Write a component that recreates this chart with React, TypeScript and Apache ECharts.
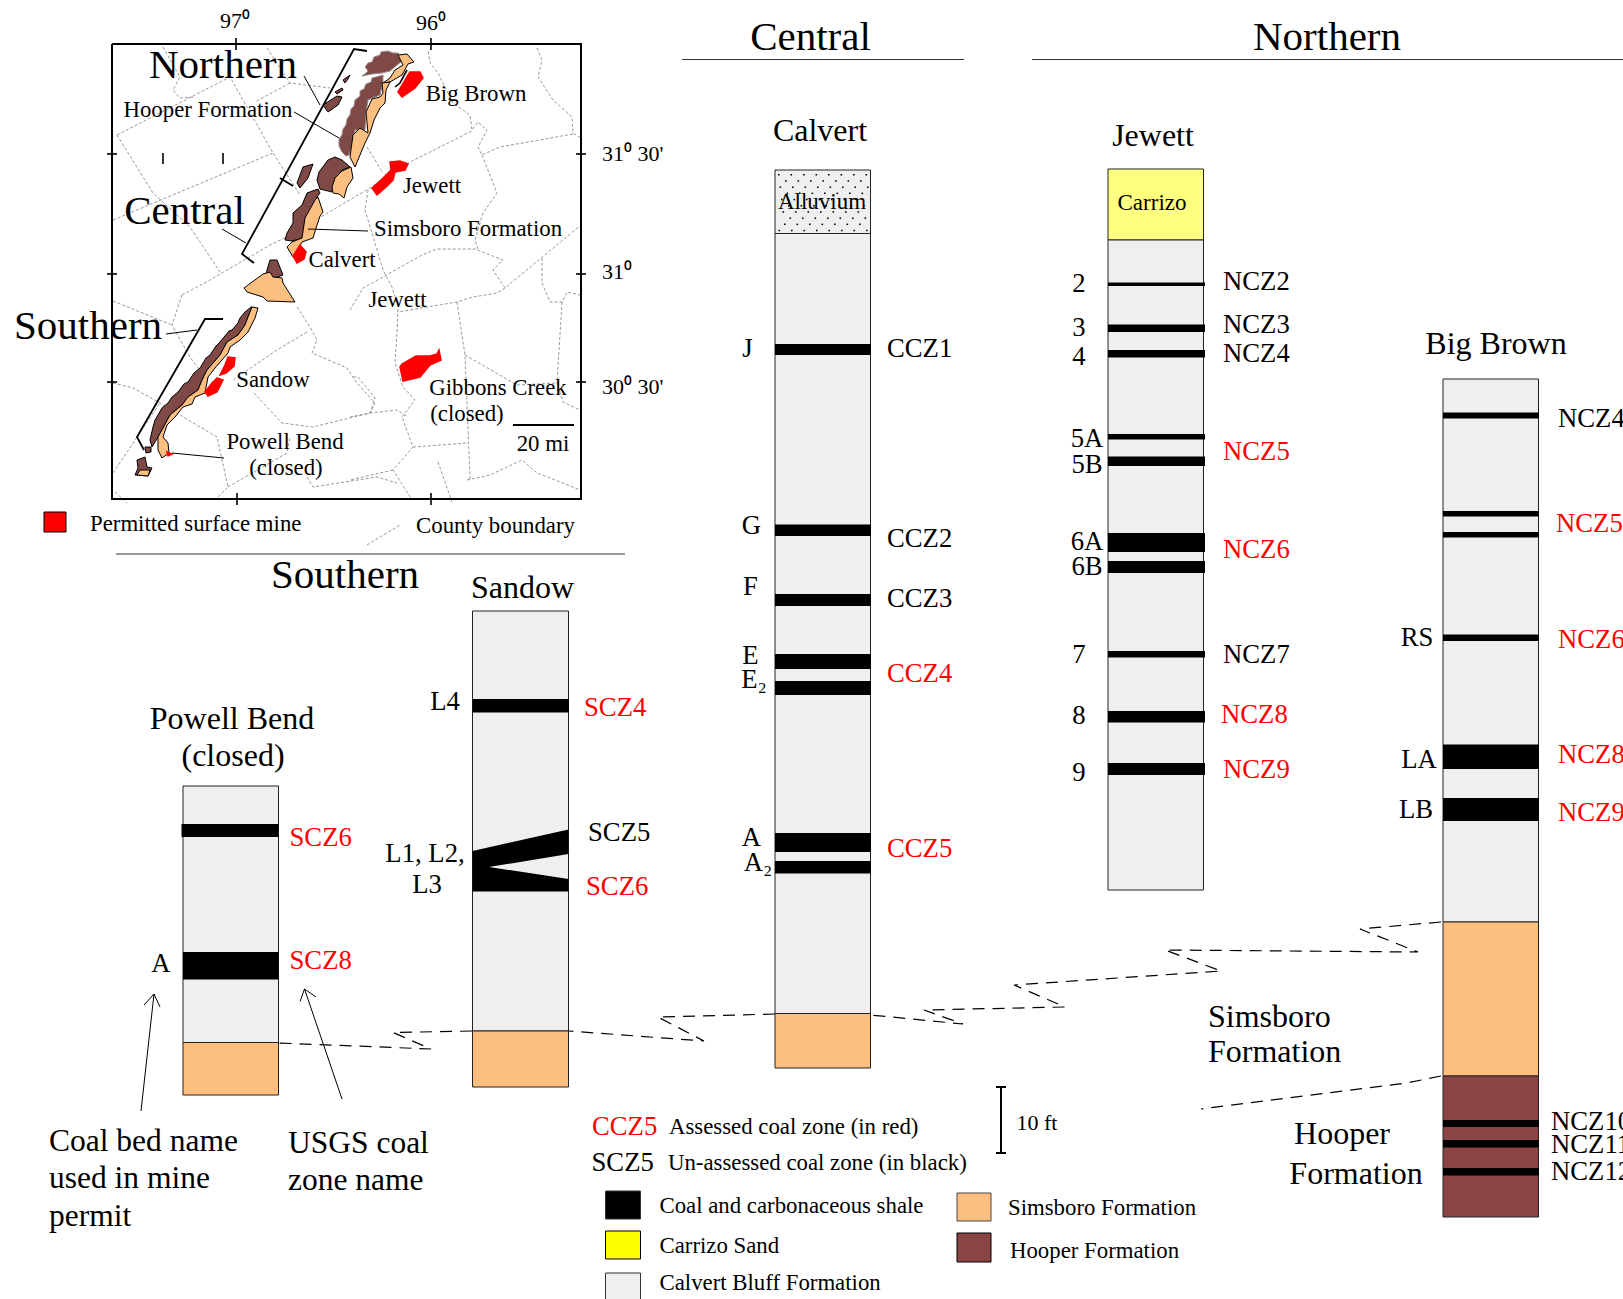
import React, { useEffect, useRef } from "react";
import * as echarts from "echarts";

// ---------- stratigraphic data (axis units: drawing height / x along the sheet) ----------
const calvertBedNames = ["J", "G", "F", "E", "E₂", "A", "A₂"];
const calvertBedTops = [344, 524.5, 594, 654, 681, 833, 861];
const calvertBedBases = [355, 536, 606, 669, 695, 852, 873.5];
const calvertZoneNames = ["CCZ1", "CCZ2", "CCZ3", "CCZ4", "CCZ5"];
const calvertZoneAssessed = [false, false, false, true, true];

const jewettBedNames = ["2", "3", "4", "5A", "5B", "6A", "6B", "7", "8", "9"];
const jewettBedTops = [282.5, 324.5, 350, 434, 456.5, 533, 561, 651, 711, 763];
const jewettBedBases = [286, 332, 357.5, 439.5, 466, 552, 573, 657.5, 722.5, 775];
const jewettZoneNames = ["NCZ2", "NCZ3", "NCZ4", "NCZ5", "NCZ6", "NCZ7", "NCZ8", "NCZ9"];
const jewettZoneAssessed = [false, false, false, true, true, false, true, true];

const bigBrownBedNames = ["RS", "LA", "LB"];
const bigBrownBedTops = [412.5, 511, 532, 634.5, 744.5, 798, 1120, 1140, 1168];
const bigBrownBedBases = [418.5, 516.5, 537.5, 641, 769, 821, 1127, 1147.5, 1175.5];
const bigBrownZoneNames = ["NCZ4", "NCZ5", "NCZ6", "NCZ8", "NCZ9", "NCZ10", "NCZ11", "NCZ12"];
const bigBrownZoneAssessed = [false, true, true, true, true, false, false, false];

const sandowBedNames = ["L4", "L1, L2,", "L3"];
const sandowBedTops = [699];
const sandowBedBases = [712.5];
const sandowZoneNames = ["SCZ4", "SCZ5", "SCZ6"];
const sandowZoneAssessed = [true, false, true];

const powellBedNames = ["A"];
const powellBedTops = [824, 952];
const powellBedBases = [837, 979.5];
const powellZoneNames = ["SCZ6", "SCZ8"];
const powellZoneAssessed = [true, true];

const degreeLabels = ["97⁰", "96⁰", "31⁰ 30'", "31⁰", "30⁰ 30'"];
const sectionNames = ["Central", "Northern", "Southern"];
const mineNames = ["Calvert", "Jewett", "Big Brown", "Sandow", "Powell Bend", "(closed)"];

const BLACK = "#000000";
const RED = "#ff0000";
const GRAY = "#efefef";
const SIMS = "#fdbf7f";
const HOOP = "#8b4444";
const MAPHOOP = "#7f4a46";
const FONT = '"Liberation Serif", "Times New Roman", serif';

type R = { b: number[]; fill: string; stroke?: string; lw?: number };
type P = { pts: number[][]; fill: string; stroke?: string; lw?: number };
type L = { pts: number[][]; color: string; lw: number; dash?: number[] };
type T = { s: string; x: number; y: number; size: number; color?: string; align?: string };

// ---------- map outlines ----------
const hooperNorthA = [[368,63],[372,62],[374,57],[380,55],[381,52],[388,51],[393,53],[398,53],[402,61],[396,66],[390,71],[382,73],[372,74],[362,76],[366,73],[368,71],[365,67]];
const hooperNorthB = [[383,75],[376,77],[372,78],[371,82],[366,84],[364,89],[360,91],[360,96],[355,100],[354,106],[351,109],[350,115],[347,119],[346,125],[343,129],[342,135],[339,139],[339,146],[342,152],[346,156],[349,155],[353,143],[355,130],[365,130],[366,113],[368,100],[380,95],[383,82]];
const simsNorthA = [[390,78],[395,70],[403,65],[398,55],[407,54],[414,62],[408,64],[402,75],[390,82],[383,83]];
const simsNorthB = [[380,97],[372,99],[366,112],[368,133],[360,128],[353,135],[350,157],[355,167],[365,143],[370,133],[374,120],[380,108],[385,103],[386,90],[390,82],[382,83],[383,93]];
const hooperIsleA = [[323,105],[337,96],[342,97],[338,105],[328,112]];
const hooperIsleB = [[335,92],[342,88],[343,90],[337,94]];
const hooperIsleC = [[343,80],[350,75],[348,79],[345,83]];
const hooperCentralA = [[317,180],[319,172],[322,168],[328,160],[335,157],[342,160],[350,167],[342,170],[335,180],[332,192],[320,189]];
const simsCentralA = [[351,167],[353,178],[347,187],[344,198],[339,194],[333,193],[332,187],[335,178],[342,171]];
const hooperCentralIsle = [[297,183],[303,167],[313,164],[308,178],[300,188]];
const hooperCentralB = [[318,189],[307,193],[302,205],[293,213],[293,223],[287,233],[285,240],[292,241],[303,238],[305,218],[315,205],[317,197],[320,193]];
const simsCentralB = [[318,197],[323,212],[320,216],[317,225],[313,238],[302,242],[298,250],[293,257],[287,247],[292,242],[302,238],[305,218],[315,200]];
const simsMiddle = [[244,288],[263,274],[270,272],[273,277],[282,278],[283,283],[295,302],[267,301],[263,297],[247,292]];
const hooperMiddle = [[270,260],[277,260],[283,275],[275,278],[265,277]];
const hooperSouth = [[251,307],[245,312],[240,318],[238,323],[232,330],[229,331],[220,342],[216,346],[210,355],[206,358],[200,368],[194,373],[188,382],[184,384],[178,392],[172,397],[168,403],[162,408],[158,415],[155,420],[153,427],[150,440],[152,447],[158,437],[163,428],[170,415],[182,405],[188,397],[198,390],[202,380],[207,370],[220,355],[227,342],[238,335],[245,325],[248,317],[252,307]];
const simsSouth = [[252,307],[258,308],[255,318],[250,328],[248,332],[240,340],[230,347],[228,353],[215,368],[208,377],[205,393],[195,397],[192,404],[183,407],[175,417],[167,425],[163,437],[168,443],[169,453],[162,458],[158,450],[158,437],[163,428],[170,415],[182,405],[188,397],[198,390],[202,380],[207,370],[220,355],[227,342],[238,335],[245,325],[248,317]];
const hooperDot = [[145,447],[151,447],[151,452],[146,453]];
const hooperSW = [[137,460],[145,457],[147,467],[152,468],[148,476],[135,475],[138,468]];
const simsSW = [[140,470],[150,470],[148,476],[137,475]];
const mineBigBrown = [[410,72],[420,72],[423,78],[415,88],[408,93],[402,97],[398,92],[404,82],[408,75]];
const mineJewett = [[390,162],[400,161],[408,164],[405,170],[395,172],[393,180],[385,188],[377,195],[372,188],[383,178],[391,170]];
const mineCalvert = [[300,245],[306,252],[304,259],[297,263],[293,256]];
const mineSandowA = [[228,357],[235,358],[234,366],[226,373],[220,375],[225,365]];
const mineSandowB = [[217,378],[223,380],[217,392],[208,396],[205,392],[212,383]];
const minePowell = [[167,452],[172,454],[168,456]];
const mineGibbons = [[400,367],[402,364],[416,356],[430,356],[437,354],[439,350],[441,360],[430,365],[420,377],[403,381]];

const countyLines = [
  [[117,135],[230,77],[273,153],[300,195]],
  [[113,220],[273,153]],
  [[267,48],[290,83],[330,88]],
  [[290,83],[255,102]],
  [[163,47],[180,77],[173,90],[180,98],[193,97]],
  [[117,135],[153,193],[190,227],[220,272]],
  [[182,295],[210,280],[270,245],[287,237],[370,188],[408,163],[472,131]],
  [[182,295],[172,325],[190,357],[203,375]],
  [[113,301],[172,325]],
  [[307,332],[277,350],[233,380]],
  [[113,383],[133,388],[160,403],[217,437],[228,487],[215,500]],
  [[297,307],[310,327],[317,340],[312,353],[347,368],[357,383],[375,403],[370,413],[313,427],[282,423],[253,392]],
  [[370,413],[397,410],[408,417]],
  [[228,487],[287,453],[290,437]],
  [[113,473],[160,403]],
  [[115,492],[127,503]],
  [[307,477],[313,487],[377,477],[397,483]],
  [[368,190],[365,210],[375,243],[383,270],[392,287],[398,307],[397,333],[395,363],[403,387],[415,400],[402,417],[413,447],[393,470],[412,500]],
  [[350,310],[363,288],[383,277],[422,255],[437,249],[475,249],[503,260],[493,270],[505,288],[581,225]],
  [[505,288],[497,293],[473,297],[457,302],[427,307],[398,312]],
  [[457,302],[465,355],[470,477]],
  [[465,355],[517,385],[557,383]],
  [[542,258],[542,283],[550,302],[562,302],[567,292],[580,295]],
  [[562,302],[557,383],[563,402],[580,410]],
  [[413,447],[468,443]],
  [[471,477],[467,480],[490,475],[522,460],[537,473],[563,483],[580,490]],
  [[438,462],[452,502]],
  [[393,470],[350,480]],
  [[537,48],[542,60],[538,77],[553,100],[572,117],[573,133],[581,138]],
  [[573,134],[500,147],[482,155],[478,147],[487,130],[478,122],[472,130],[470,115],[453,103],[438,73],[430,63],[428,50]],
  [[482,155],[497,193],[483,213],[475,240],[478,249]],
  [[367,147],[383,173]],
  [[350,417],[370,413],[375,398],[358,377],[352,377]],
  [[367,545],[400,525]],
];

// ---------- assemble marks ----------
const rects: R[] = [];
const polys: P[] = [];
const lines: L[] = [];
const texts: T[] = [];
const frame = "#222222";
const column = (x0: number, x1: number, segs: [number, number, string][]) =>
  segs.forEach(([a, b, f]) => rects.push({ b: [x0, a, x1, b], fill: f, stroke: frame, lw: 1 }));
const coal = (x0: number, x1: number, tops: number[], bases: number[]) =>
  tops.forEach((t, i) => rects.push({ b: [x0, t, x1, bases[i]], fill: BLACK }));

column(775, 870.5, [[170, 233.5, GRAY], [233.5, 1013.5, GRAY], [1013.5, 1068, SIMS]]);
coal(775, 871, calvertBedTops, calvertBedBases);
column(1108, 1203.5, [[169, 240, "#ffff80"], [240, 890, GRAY]]);
coal(1108, 1205, jewettBedTops, jewettBedBases);
column(1443, 1538.5, [[379, 922, GRAY], [922, 1076, SIMS], [1076, 1217, HOOP]]);
coal(1443, 1539, bigBrownBedTops, bigBrownBedBases);
column(472.5, 568.5, [[611, 1031, GRAY], [1031, 1087, SIMS]]);
coal(472.5, 569, sandowBedTops, sandowBedBases);
polys.push({ pts: [[472.5,851],[568.5,829.5],[568.5,854],[489,867],[568.5,879],[568.5,891.5],[472.5,891.5]], fill: BLACK });
column(183, 278.5, [[786, 1042.5, GRAY], [1042.5, 1095, SIMS]]);
coal(181.5, 278.5, [powellBedTops[0]], [powellBedBases[0]]);
coal(183, 278.5, [powellBedTops[1]], [powellBedBases[1]]);

// alluvium stipple
for (let r = 0; r < 10; r++)
  for (let c = 0; c < 8; c++) {
    const x = 778 + c * 12.5 + ((r * 7) % 12.5);
    const y = 174 + r * 6.2;
    if (x < 868) rects.push({ b: [x, y, x + 1.6, y + 1.5], fill: BLACK });
  }

// legend swatches
rects.push({ b: [44, 512, 66, 532], fill: RED, stroke: BLACK, lw: 1 });
rects.push({ b: [605.5, 1191, 640.5, 1219], fill: BLACK, stroke: "#333", lw: 1 });
rects.push({ b: [605.5, 1231, 640.5, 1259], fill: "#ffff00", stroke: BLACK, lw: 1 });
rects.push({ b: [605.5, 1273, 640.5, 1312], fill: GRAY, stroke: "#333", lw: 1 });
rects.push({ b: [957, 1193, 991, 1221], fill: SIMS, stroke: "#444", lw: 1 });
rects.push({ b: [957, 1233, 991, 1262], fill: HOOP, stroke: BLACK, lw: 1 });

[hooperNorthA, hooperNorthB, hooperIsleA, hooperIsleB, hooperIsleC, hooperCentralA, hooperCentralIsle, hooperCentralB, hooperMiddle, hooperSouth, hooperDot, hooperSW].forEach((pts, i) =>
  polys.push({ pts, fill: MAPHOOP, stroke: i < 2 ? "#9a8a8a" : BLACK, lw: 1 }));
[simsNorthA, simsNorthB, simsCentralA, simsCentralB, simsMiddle, simsSouth, simsSW].forEach((pts) =>
  polys.push({ pts, fill: SIMS, stroke: BLACK, lw: 1 }));
[mineBigBrown, mineJewett, mineCalvert, mineSandowA, mineSandowB, minePowell, mineGibbons].forEach((pts) =>
  polys.push({ pts, fill: RED, stroke: RED, lw: 1.5 }));

countyLines.forEach((pts) => lines.push({ pts, color: "#8c8c8c", lw: 0.9, dash: [3, 2] }));
const solid = (pts: number[][], lw = 1, color = BLACK) => lines.push({ pts, color, lw });
const dashed = (pts: number[][]) => lines.push({ pts, color: BLACK, lw: 1.2, dash: [12, 8] });

// map frame and ticks
solid([[112, 44], [581, 44], [581, 499], [112, 499], [112, 44]], 2);
[[236, 38, 236, 50], [431, 38, 431, 50], [237, 493, 237, 505], [431, 493, 431, 505],
 [107, 154, 117, 154], [107, 274, 117, 274], [107, 382, 117, 382],
 [576, 154, 586, 154], [576, 274, 586, 274], [576, 382, 586, 382],
 [163, 153, 163, 164], [223, 153, 223, 164]].forEach((t) => solid([[t[0], t[1]], [t[2], t[3]]], 1.6));
// brackets, leaders
solid([[367, 51], [354, 49], [242, 254], [254, 263]], 1.8);
solid([[280, 178], [293, 186]], 1.8);
solid([[223, 319], [205, 319], [137, 437], [144, 450]], 1.8);
solid([[304, 76], [320, 105]]);
solid([[294, 112], [339, 138]]);
solid([[222, 229], [246, 243]]);
solid([[308, 229], [368, 231]]);
solid([[166, 334], [197, 330]]);
solid([[172, 453], [224, 458]]);
solid([[407, 70], [400, 83], [395, 87]], 1.6);
solid([[513, 425], [574, 425]], 2);
// section rules
solid([[682, 59.5], [964, 59.5]], 1, "#333");
solid([[1032, 59.5], [1623, 59.5]], 1, "#333");
solid([[116, 554], [625, 554]], 1, "#333");
// arrows
solid([[141, 1111], [154, 994]]);
solid([[144, 1005], [154, 994], [160, 1007]]);
solid([[342, 1099], [304.5, 989]]);
solid([[300, 1001.5], [304.5, 989], [316, 997]]);
// scale
solid([[1001, 1087], [1001, 1153]], 2);
solid([[996, 1087], [1006, 1087]], 2);
solid([[996, 1153], [1006, 1153]], 2);
// correlation dashes
dashed([[1441,922],[1360,929],[1418,952],[1165,950],[1221,971],[1014,985],[1065,1007],[924,1010],[963,1024],[870.5,1015]]);
dashed([[775,1014],[658,1017],[704,1041],[569,1031]]);
dashed([[472,1031],[393,1032.5],[431,1049],[278.5,1043]]);
dashed([[1441,1076],[1407,1083],[1201,1109]]);

// ---------- text ----------
const t = (s: string, x: number, y: number, size: number, color = BLACK, align = "center") =>
  texts.push({ s, x, y: y - 1, size, color, align });
const placed = (names: string[], pos: number[][], size: number, align = "center", assessed?: boolean[]) =>
  names.forEach((n, i) => t(n, pos[i][0], pos[i][1], size, assessed && assessed[i] ? RED : BLACK, align));

placed(degreeLabels.slice(0, 2), [[235, 21], [431, 23]], 22);
placed(degreeLabels.slice(2), [[602, 154], [602, 272], [602, 387]], 22, "left");
t("Northern", 223, 65, 41);
t("Central", 184.5, 211, 41);
t("Southern", 88, 326, 41);
t("Hooper Formation", 208, 110, 22.8);
t("Big Brown", 476, 94, 22.8);
t("Jewett", 432, 186, 22.8);
t("Simsboro Formation", 468, 229, 22.8);
t("Calvert", 342, 260, 22.8);
t("Jewett", 397.5, 300, 22.8);
t("Sandow", 273, 380, 22.8);
t("Gibbons Creek", 498, 388, 22.8);
t("(closed)", 467, 414, 22.8);
t("20 mi", 543, 444, 22.8);
t("Powell Bend", 285, 442, 22.8);
t("(closed)", 286, 468, 22.8);
t("Permitted surface mine", 90, 524, 22.8, BLACK, "left");
t("County boundary", 495.5, 526, 22.8);

placed(sectionNames, [[810.5, 37], [1327, 37], [345, 575]], 41);
placed(mineNames, [[820, 131], [1153, 135.5], [1496, 344], [522.5, 588], [232, 719], [233, 756]], 32);
t("Alluvium", 822, 202, 23);
t("Carrizo", 1152, 203, 23);

placed(calvertBedNames, [[747.5,349],[751.5,526],[750.5,587],[750.5,656],[754,680],[751.5,838],[758,863]], 26.7);
placed(calvertZoneNames, [[887,349],[887,539],[887,599],[887,674],[887,849]], 26.7, "left", calvertZoneAssessed);
placed(jewettBedNames, [[1079,284],[1079,328],[1079,357],[1087,439],[1087,465],[1087,542],[1087,567],[1079,655],[1079,716],[1079,773]], 26.7);
placed(jewettZoneNames, [[1223,282],[1223,325],[1223,354],[1223,452],[1223,550],[1223,655],[1221,715],[1223,770]], 26.7, "left", jewettZoneAssessed);
placed(bigBrownBedNames, [[1417,638],[1419,760],[1416,810]], 26.7);
placed(bigBrownZoneNames, [[1558,419],[1556,524],[1558,640],[1558,755],[1558,813],[1551,1122],[1551,1145],[1551,1172]], 26.7, "left", bigBrownZoneAssessed);
placed(sandowBedNames, [[445,702],[425,854],[427,885]], 26.7);
placed(sandowZoneNames, [[584,708],[588,833],[586,887]], 26.7, "left", sandowZoneAssessed);
placed(powellBedNames, [[161,964]], 26.7);
placed(powellZoneNames, [[289.5,838],[289.5,961]], 26.7, "left", powellZoneAssessed);

["Coal bed name", "used in mine", "permit"].forEach((s, i) => t(s, 49, [1141, 1178, 1216][i], 31.5, BLACK, "left"));
["USGS coal", "zone name"].forEach((s, i) => t(s, 288, [1143, 1180][i], 31.5, BLACK, "left"));
t("CCZ5", 592, 1127, 26.7, RED, "left");
t("SCZ5", 591.5, 1163, 26.7, BLACK, "left");
t("Assessed coal zone (in red)", 669, 1127, 22.8, BLACK, "left");
t("Un-assessed coal zone (in black)", 668, 1163, 22.8, BLACK, "left");
t("10 ft", 1016.5, 1123, 22, BLACK, "left");
t("Coal and carbonaceous shale", 659.5, 1206, 22.8, BLACK, "left");
t("Carrizo Sand", 659.5, 1246, 22.8, BLACK, "left");
t("Calvert Bluff Formation", 659.5, 1283, 22.8, BLACK, "left");
t("Simsboro Formation", 1008, 1208, 22.8, BLACK, "left");
t("Hooper Formation", 1010, 1251, 22.8, BLACK, "left");
t("Simsboro", 1208, 1017, 32, BLACK, "left");
t("Formation", 1208, 1052, 32, BLACK, "left");
t("Hooper", 1342, 1134, 32);
t("Formation", 1356, 1174, 32);

export default function App() {
  const ref = useRef<HTMLDivElement>(null);
  useEffect(() => {
    document.body.style.margin = "0";
    document.body.style.overflow = "hidden";
    const chart = echarts.init(ref.current!, undefined, { renderer: "svg" });
    const indexData = (n: number) => Array.from({ length: n }, (_, i) => [i, 0]);
    const option: any = {
      animation: false,
      backgroundColor: "#ffffff",
      grid: { left: 0, right: 0, top: 0, bottom: 0 },
      xAxis: { type: "value", min: 0, max: 1623, show: false },
      yAxis: { type: "value", min: 0, max: 1299, inverse: true, show: false },
      series: [
        {
          type: "custom", coordinateSystem: "cartesian2d", silent: true, z: 1,
          data: indexData(countyLines.length),
          renderItem: (p: any, api: any) => {
            const l = lines[p.dataIndex];
            return { type: "polyline", shape: { points: l.pts.map((q) => api.coord(q)) },
              style: { stroke: l.color, lineWidth: l.lw, lineDash: l.dash, fill: null } };
          },
        },
        {
          type: "custom", coordinateSystem: "cartesian2d", silent: true, z: 2,
          data: indexData(rects.length),
          renderItem: (p: any, api: any) => {
            const r = rects[p.dataIndex];
            const a = api.coord([r.b[0], r.b[1]]);
            const b = api.coord([r.b[2], r.b[3]]);
            return { type: "rect", shape: { x: a[0], y: a[1], width: b[0] - a[0], height: b[1] - a[1] },
              style: { fill: r.fill, stroke: r.stroke || null, lineWidth: r.lw || 0 } };
          },
        },
        {
          type: "custom", coordinateSystem: "cartesian2d", silent: true, z: 3,
          data: indexData(polys.length),
          renderItem: (p: any, api: any) => {
            const g = polys[p.dataIndex];
            return { type: "polygon", shape: { points: g.pts.map((q) => api.coord(q)) },
              style: { fill: g.fill, stroke: g.stroke || null, lineWidth: g.lw || 0 } };
          },
        },
        {
          type: "custom", coordinateSystem: "cartesian2d", silent: true, z: 4,
          data: indexData(lines.length - countyLines.length),
          renderItem: (p: any, api: any) => {
            const l = lines[p.dataIndex + countyLines.length];
            return { type: "polyline", shape: { points: l.pts.map((q) => api.coord(q)) },
              style: { stroke: l.color, lineWidth: l.lw, lineDash: l.dash, fill: null } };
          },
        },
        {
          type: "custom", coordinateSystem: "cartesian2d", silent: true, z: 5,
          data: indexData(texts.length),
          renderItem: (p: any, api: any) => {
            const x = texts[p.dataIndex];
            const c = api.coord([x.x, x.y]);
            return { type: "text", x: c[0], y: c[1],
              style: { text: x.s, fontFamily: FONT, fontSize: x.size, fill: x.color, align: x.align, verticalAlign: "middle" } };
          },
        },
      ],
    };
    chart.setOption(option);
    return () => chart.dispose();
  }, []);
  return <div ref={ref} style={{ position: "absolute", left: 0, top: 0, width: 1623, height: 1299 }} />;
}
